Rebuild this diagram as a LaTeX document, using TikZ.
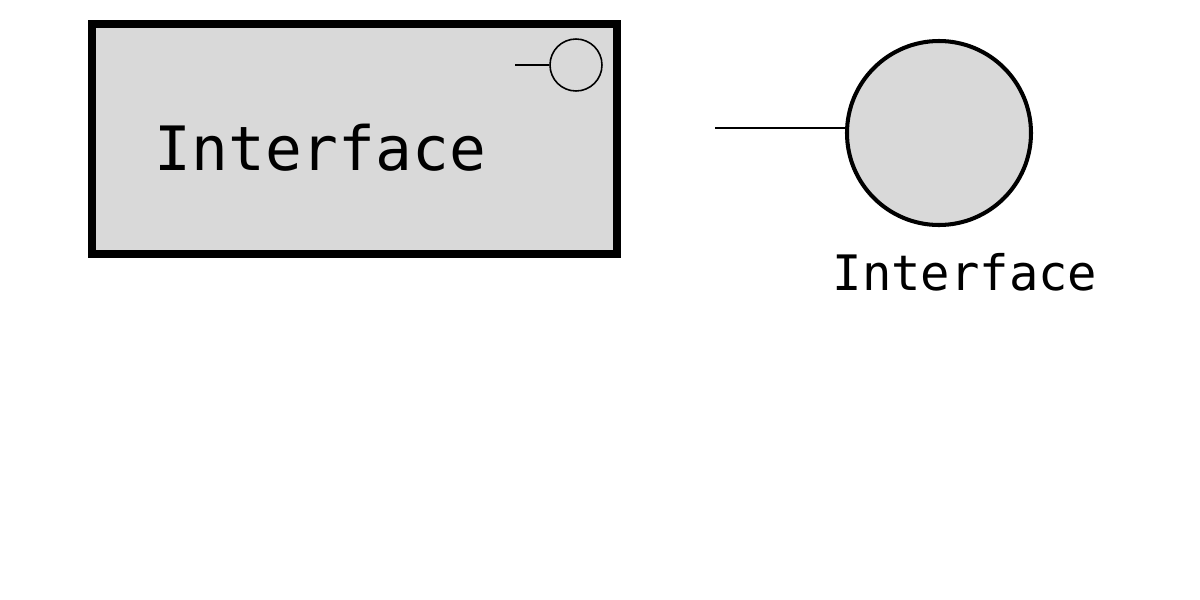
\documentclass[tikz,border=0pt]{standalone}
\usepackage{fontspec}
\setmonofont{DejaVu Sans Mono}
\usetikzlibrary{positioning}
\definecolor{ifacefill}{HTML}{D9D9D9}

\begin{document}
\begin{tikzpicture}[
  font=\ttfamily,
  ifacebox/.style={draw,fill=ifacefill,line width=2.3pt,minimum width=5.25cm,minimum height=2.30cm,inner sep=0pt},
  lollipop/.style={circle,draw,inner sep=0pt},
  stub/.style={line width=0.5pt}
]
\useasboundingbox (0,0) rectangle (12,-6);

% component box with its small interface symbol
\node[ifacebox] (box) at (3.545,-1.39) {};
\node[anchor=base west,inner sep=0pt,font=\ttfamily\fontsize{17.4}{20}\selectfont] (boxlabel) at (1.54,-1.70) {Interface};
\node[lollipop,line width=0.45pt,minimum size=0.52cm] (smallcirc) at (5.76,-0.65) {};
\coordinate (smallstub) at (5.15,-0.65);
\draw[stub] (smallstub) -- (smallcirc.west);

% interface as a lollipop
\node[lollipop,fill=ifacefill,line width=1.15pt,minimum size=1.84cm] (bigcirc) at (9.39,-1.33) {};
\coordinate (bigstub) at (7.15,-1.28);
\draw[stub,line width=0.7pt] (bigstub) -- (bigstub -| bigcirc.west);
\node[anchor=base west,inner sep=0pt,font=\ttfamily\fontsize{13.9}{16}\selectfont] (circlabel) at (8.32,-2.90) {Interface};
\end{tikzpicture}
\end{document}
